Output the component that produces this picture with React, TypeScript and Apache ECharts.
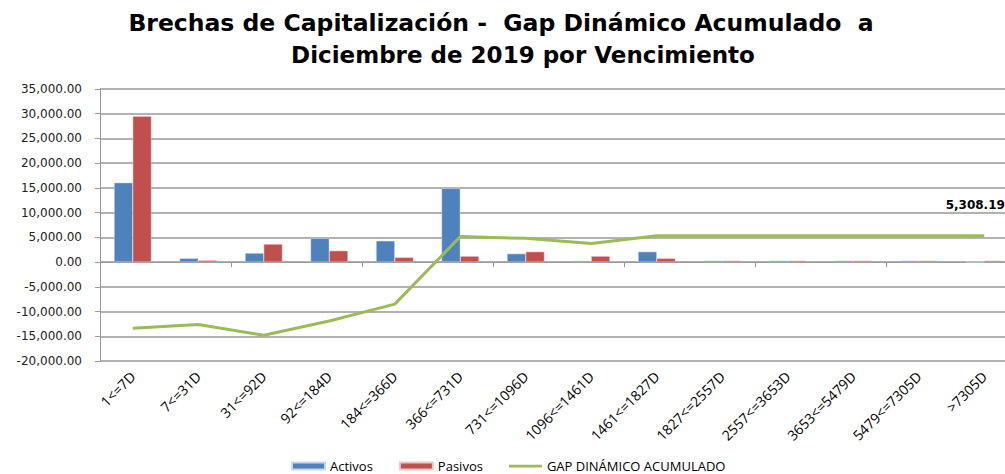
import React, { useEffect, useRef } from "react";
import * as echarts from "echarts";

const categories = [
  "1<=7D", "7<=31D", "31<=92D", "92<=184D", "184<=366D", "366<=731D", "731<=1096D",
  "1096<=1461D", "1461<=1827D", "1827<=2557D", "2557<=3653D", "3653<=5479D", "5479<=7305D", ">7305D",
];
const activos = [16050, 750, 1820, 4800, 4300, 14900, 1700, 260, 2100, 280, 280, 280, 280, 0];
const pasivos = [29500, 350, 3640, 2300, 950, 1200, 2100, 1200, 750, 280, 280, 280, 280, 280];
const gap = [-13400, -12600, -14800, -11900, -8500, 5150, 4800, 3780, 5308.19, 5308.19, 5308.19, 5308.19, 5308.19, 5308.19];
const yTicks = { min: -20000, max: 35000, interval: 5000 };
const titleLines = ["Brechas de Capitalización -  Gap Dinámico Acumulado  a", "Diciembre de 2019 por Vencimiento"];

const fmt = (v: number) =>
  v.toLocaleString("en-US", { minimumFractionDigits: 2, maximumFractionDigits: 2 });

export default function App() {
  const ref = useRef<HTMLDivElement>(null);
  useEffect(() => {
    const chart = echarts.init(ref.current!, null, { renderer: "svg" });
    const titleStyle = {
      fontFamily: "DejaVu Sans",
      fontWeight: "bold",
      fontSize: 23,
      color: "#000",
    };
    const last = gap.length - 1;
    chart.setOption({
      animation: false,
      backgroundColor: "#fff",
      title: [
        { text: titleLines[0], left: 496, top: 6, textAlign: "center", textStyle: { ...titleStyle, fontSize: 23.5 } },
        { text: titleLines[1], left: 518, top: 38, textAlign: "center", textStyle: titleStyle },
      ],
      legend: {
        top: 454,
        left: 286,
        itemGap: 26,
        itemWidth: 33,
        itemHeight: 7,
        textStyle: { fontFamily: "Open Sans", fontSize: 13, lineHeight: 14, color: "#000" },
        data: [
          { name: "Activos", icon: "rect" },
          { name: "Pasivos", icon: "rect" },
          { name: "GAP DINÁMICO ACUMULADO", icon: "path://M0,0 L0,0 M0,2 L36,2 L36,5 L0,5 Z M36,7 L36,7" },
        ],
      },
      grid: { left: 100, right: -12, top: 89, bottom: 113, outerBoundsMode: "none", containLabel: false },
      xAxis: [
        {
          type: "category",
          data: categories,
          axisLine: { onZero: true, lineStyle: { color: "#999", width: 1 } },
          axisTick: { show: true, lineStyle: { color: "#999" }, length: 5 },
          axisLabel: { show: false },
        },
        {
          type: "category",
          data: categories,
          position: "bottom",
          axisLine: { show: false, onZero: false },
          axisTick: { show: false },
          axisLabel: {
            rotate: 45,
            interval: 0,
            fontFamily: "Open Sans",
            fontSize: 14,
            color: "#000",
            margin: 13,
          },
        },
      ],
      yAxis: {
        type: "value",
        min: yTicks.min,
        max: yTicks.max,
        interval: yTicks.interval,
        axisLine: { show: true, lineStyle: { color: "#999" } },
        axisTick: { show: true, lineStyle: { color: "#999" }, length: 5 },
        splitLine: { lineStyle: { color: "#999", width: 1.5 } },
        axisLabel: {
          formatter: (v: number) => fmt(v),
          fontFamily: "DejaVu Sans",
          fontSize: 12,
          color: "#222",
          margin: 18,
        },
      },
      series: [
        {
          name: "Activos",
          type: "bar",
          data: activos,
          barGap: "0%",
          barCategoryGap: "43%",
          itemStyle: { color: "#4F81BD", borderColor: "#c9d7ea", borderWidth: 0.5 },
        },
        {
          name: "Pasivos",
          type: "bar",
          data: pasivos,
          itemStyle: { color: "#C0504D", borderColor: "#ecc9c8", borderWidth: 0.5 },
        },
        {
          name: "GAP DINÁMICO ACUMULADO",
          type: "line",
          data: gap,
          symbol: "none",
          lineStyle: { color: "#9BBB59", width: 3 },
          itemStyle: { color: "#9BBB59" },
          markPoint: {
            symbol: "circle",
            symbolSize: 0,
            label: {
              show: true,
              position: "inside",
              offset: [-9, -31],
              fontFamily: "DejaVu Sans",
              fontWeight: "bold",
              fontSize: 12,
              color: "#000",
              formatter: (p: any) => fmt(p.value),
            },
            data: [{ coord: [categories[last], gap[last]], value: gap[last] }],
          },
        },
      ],
    });
    return () => chart.dispose();
  }, []);
  return (
    <div
      ref={ref}
      style={{ position: "fixed", left: 0, top: 0, width: 1005, height: 474 }}
    />
  );
}
